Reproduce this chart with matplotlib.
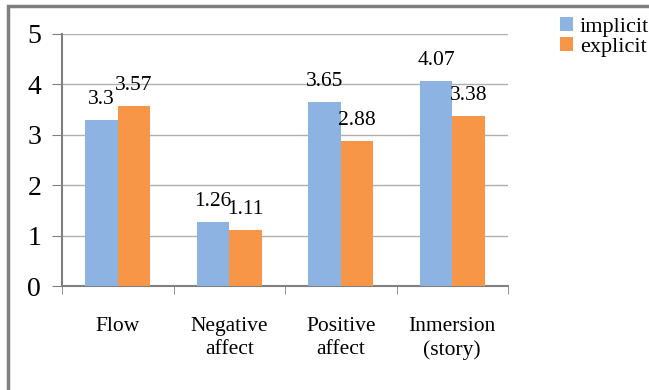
import matplotlib.pyplot as plt
import numpy as np
from matplotlib.patches import Rectangle

categories = ['Flow', 'Negative\naffect', 'Positive\naffect', 'Inmersion\n(story)']
implicit = [3.3, 1.26, 3.65, 4.07]
explicit = [3.57, 1.11, 2.88, 3.38]
implicit_labels = ['3.3', '1.26', '3.65', '4.07']
explicit_labels = ['3.57', '1.11', '2.88', '3.38']

plt.rcParams['font.family'] = ['Liberation Serif', 'DejaVu Serif']

fig = plt.figure(figsize=(6.49, 3.90), dpi=100)
ax = fig.add_axes([62/649, 1 - 286/390, 446/649, 252/390])

x = np.arange(len(categories))
w = 0.29
b1 = ax.bar(x - w/2, implicit, w, color='#8db3e2', label='implicit', zorder=3)
b2 = ax.bar(x + w/2, explicit, w, color='#f79646', label='explicit', zorder=3)

for bars, labs in [(b1, implicit_labels), (b2, explicit_labels)]:
    for bar, lab in zip(bars, labs):
        ax.text(bar.get_x() + bar.get_width()/2, bar.get_height() + 0.22, lab,
                ha='center', va='bottom', fontsize=15.5)

ax.set_xlim(-0.5, len(categories) - 0.5)
ax.set_ylim(0, 5)
ax.set_yticks(range(6))
ax.tick_params(axis='y', labelsize=20, length=7, color='#808080', pad=8)
ax.set_xticks(x)
ax.set_xticklabels(categories, fontsize=15.5, linespacing=1.3)
ax.tick_params(axis='x', length=0, pad=22)
ax.set_xticks(np.arange(-0.5, len(categories)), minor=True)
ax.tick_params(axis='x', which='minor', length=6, color='#808080')
ax.grid(axis='y', color='#b0b0b0', linewidth=1, zorder=0)
for s in ['top', 'right']:
    ax.spines[s].set_visible(False)
for s in ['left', 'bottom']:
    ax.spines[s].set_color('#808080')
    ax.spines[s].set_linewidth(1.5)

ax.legend(loc='upper left', bbox_to_anchor=(560/649, 1 - 17/390), bbox_transform=fig.transFigure,
          frameon=False, fontsize=16, handlelength=0.6, handleheight=0.6,
          handletextpad=0.3, labelspacing=0.0, borderpad=0, borderaxespad=0)

fig.patches.append(Rectangle((8/649, -0.1), 1.2, 1 - 6/390 + 0.1, transform=fig.transFigure,
                             fill=False, edgecolor='#808080', linewidth=2.5))

fig.savefig('out.png', dpi=100)
